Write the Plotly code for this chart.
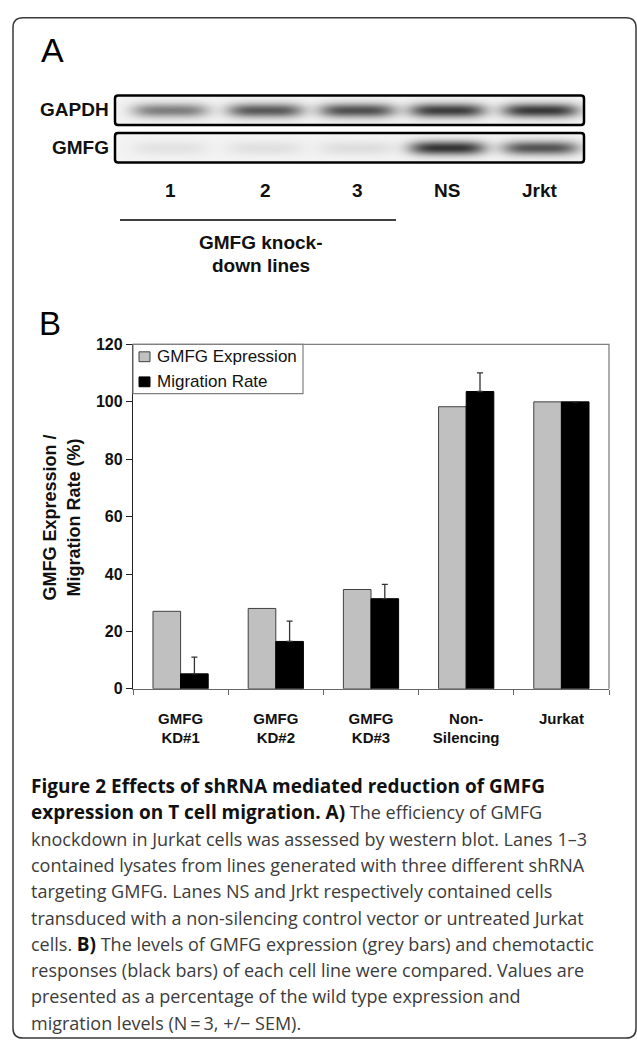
import numpy as np
import plotly.graph_objects as go

W, H = 637, 1049

# ---------------- data ----------------
categories = ["GMFG<br>KD#1", "GMFG<br>KD#2", "GMFG<br>KD#3", "Non-<br>Silencing", "Jurkat"]
gmfg_expression = [27.0, 28.0, 34.6, 98.3, 100.0]
migration_rate = [5.2, 16.5, 31.4, 103.6, 100.0]
migration_sem = [5.8, 7.1, 5.0, 6.5, 0.0]
y_tick_values = [0, 20, 40, 60, 80, 100, 120]
series_names = ["GMFG Expression", "Migration Rate"]

blot_lanes = ["1", "2", "3", "NS", "Jrkt"]
blot_proteins = ["GAPDH", "GMFG"]
gapdh_band = [0.50, 0.66, 0.70, 0.78, 0.80]
gmfg_band = [0.07, 0.08, 0.09, 0.82, 0.68]

caption_lines = [
    "<b>Figure 2 Effects of shRNA mediated reduction of GMFG</b>",
    "<b>expression on T cell migration. A)</b> The efficiency of GMFG",
    "knockdown in Jurkat cells was assessed by western blot. Lanes 1\u20133",
    "contained lysates from lines generated with three different shRNA",
    "targeting GMFG. Lanes NS and Jrkt respectively contained cells",
    "transduced with a non-silencing control vector or untreated Jurkat",
    "cells. <b>B)</b> The levels of GMFG expression (grey bars) and chemotactic",
    "responses (black bars) of each cell line were compared. Values are",
    "presented as a percentage of the wild type expression and",
    "migration levels (N\u2009=\u20093, +/\u2212 SEM).",
]

# ---------------- layout constants (pixels) ----------------
LANE_X = [170, 265, 357, 447, 540]
BLOT_X0, BLOT_X1 = 115, 584
BOX_Y = [(89, 119), (127, 157)]
BAND_Y = [103.5, 142]
PLOT_X0, PLOT_X1 = 133, 609
PLOT_Y0, PLOT_Y1 = 342, 692  # top, bottom
ARIAL = "Liberation Sans, Arial, sans-serif"
CAP_FONT = "Open Sans, Noto Sans, sans-serif"
GREY = "#c0c0c0"
GREY_EDGE = "#404040"


def px(x):
    return x / W


def py(y):
    return 1 - y / H


def rounded_rect(x0, y0, x1, y1, r):
    rx, ry = r / W, r / H
    X0, X1, Y0, Y1 = px(x0), px(x1), py(y0), py(y1)
    return (f"M{X0 + rx},{Y0} L{X1 - rx},{Y0} Q{X1},{Y0} {X1},{Y0 - ry} "
            f"L{X1},{Y1 + ry} Q{X1},{Y1} {X1 - rx},{Y1} "
            f"L{X0 + rx},{Y1} Q{X0},{Y1} {X0},{Y1 + ry} "
            f"L{X0},{Y0 - ry} Q{X0},{Y0} {X0 + rx},{Y0} Z")


fig = go.Figure()

# ---------------- bar chart ----------------
fig.add_trace(go.Bar(
    x=categories, y=gmfg_expression, name=series_names[0],
    marker=dict(color=GREY, line=dict(color=GREY_EDGE, width=1)),
    xaxis="x", yaxis="y", showlegend=False,
))
fig.add_trace(go.Bar(
    x=categories, y=migration_rate, name=series_names[1],
    marker=dict(color="#000000", line=dict(color="#000000", width=1)),
    error_y=dict(type="data", array=migration_sem, arrayminus=[0] * len(migration_sem),
                 symmetric=False, color="#333333", thickness=1.3, width=3),
    xaxis="x", yaxis="y", showlegend=False,
))

# ---------------- western blot (heatmap rendering of band intensities) ----------------
gx = np.arange(BLOT_X0, BLOT_X1 + 1, 2.0)
gy = np.arange(BOX_Y[0][0], BOX_Y[1][1] + 0.5, 1.0)
z = np.zeros((len(gy), len(gx)))
for (y0, y1), cy, bands in zip(BOX_Y, BAND_Y, [gapdh_band, gmfg_band]):
    inside = (gy >= y0) & (gy <= y1)
    rowprof = np.exp(-((gy - cy) / 7.0) ** 2)
    for cx, val in zip(LANE_X, bands):
        colprof = np.exp(-(np.abs(gx - cx) / 38.0) ** 4)
        z += np.outer(rowprof * inside, colprof) * val
    z[inside, :] += 0.05
fig.add_trace(go.Heatmap(
    x=gx, y=gy, z=z, zmin=0, zmax=1, zsmooth="best", showscale=False,
    colorscale=[[0, "#ffffff"], [1, "#141414"]], hoverinfo="skip",
    xaxis="x2", yaxis="y2", showlegend=False,
))

shapes = []
# outer frame
shapes.append(dict(type="path", xref="paper", yref="paper",
                   path=rounded_rect(13, 10, 636, 1047, 10),
                   line=dict(color="#3a3a3a", width=1.5)))
# blot boxes
for (y0, y1) in BOX_Y:
    shapes.append(dict(type="path", xref="paper", yref="paper",
                       path=rounded_rect(BLOT_X0, y0, BLOT_X1, y1, 3),
                       line=dict(color="#000000", width=2.5)))
# knock-down line
shapes.append(dict(type="line", xref="paper", yref="paper",
                   x0=px(120), x1=px(396), y0=py(215.5), y1=py(215.5),
                   line=dict(color="#000000", width=1.5)))
# plot top/right border
shapes.append(dict(type="path", xref="paper", yref="paper",
                   path=f"M{px(PLOT_X0)},{py(PLOT_Y0)} L{px(PLOT_X1)},{py(PLOT_Y0)} L{px(PLOT_X1)},{py(PLOT_Y1)}",
                   line=dict(color="#808080", width=1.3)))
# legend box and swatches
shapes.append(dict(type="rect", xref="paper", yref="paper",
                   x0=px(PLOT_X0), x1=px(303), y0=py(392), y1=py(PLOT_Y0),
                   line=dict(color="#808080", width=1.2), fillcolor="white"))
LEG_ROWS = [354.5, 380]
for cy, fill, edge in zip(LEG_ROWS, [GREY, "#000000"], [GREY_EDGE, "#000000"]):
    shapes.append(dict(type="rect", xref="paper", yref="paper",
                       x0=px(139), x1=px(150), y0=py(cy + 5), y1=py(cy - 5),
                       line=dict(color=edge, width=1), fillcolor=fill))

ann = []


def add_text(text, x, y, size, bold=False, xanchor="center", yanchor="middle",
             family=ARIAL, color="#111111", textangle=0, align="center"):
    ann.append(dict(text=text, x=px(x), y=py(y), xref="paper", yref="paper",
                    xanchor=xanchor, yanchor=yanchor, showarrow=False,
                    textangle=textangle, align=align,
                    font=dict(family=family, size=size, color=color,
                              weight="bold" if bold else "normal")))


add_text("A", 39, 43, 34, xanchor="left", color="#000")
add_text("B", 37, 321, 33, xanchor="left", color="#000")
for name, cy in zip(blot_proteins, BAND_Y):
    add_text(name, 111, cy, 19, bold=True, xanchor="right")
for lane, cx in zip(blot_lanes, LANE_X):
    add_text(lane, cx, 185, 19, bold=True)
add_text("GMFG knock-", 261, 238, 19, bold=True)
add_text("down lines", 261, 262, 19, bold=True)
add_text("GMFG Expression /<br>Migration Rate (%)", 62, 518, 18, bold=True, textangle=-90)
for name, cy in zip(series_names, LEG_ROWS):
    add_text(name, 155, cy, 17, xanchor="left", color="#111")
for i, line in enumerate(caption_lines):
    styled = line.replace("<b>", "<span style='font-size:19px;font-weight:bold;color:#111111'>") \
                 .replace("</b>", "</span>")
    add_text(styled, 29, 791 + i * 26.7, 18, xanchor="left", family=CAP_FONT,
             color="#3c3c3c", align="left")

fig.update_layout(
    width=W, height=H, autosize=False,
    margin=dict(l=0, r=0, t=0, b=0, pad=0),
    paper_bgcolor="white", plot_bgcolor="rgba(0,0,0,0)",
    barmode="group", bargap=0.42, bargroupgap=0,
    showlegend=False,
    xaxis=dict(domain=[px(PLOT_X0), px(PLOT_X1)], anchor="y",
               showline=True, linecolor="#666666", linewidth=1.3,
               ticks="outside", tickson="boundaries", ticklen=5, tickcolor="#666666",
               ticklabelstandoff=16,
               tickfont=dict(family=ARIAL, size=15, color="#111", weight="bold"),
               showgrid=False, zeroline=False, fixedrange=True),
    yaxis=dict(domain=[py(PLOT_Y1), py(PLOT_Y0)], anchor="x", range=[0, 120],
               tickvals=y_tick_values, showline=True, linecolor="#222222", linewidth=1.3,
               ticks="outside", ticklen=6, tickcolor="#222222",
               tickfont=dict(family=ARIAL, size=16, color="#111", weight="bold"),
               showgrid=False, zeroline=False, fixedrange=True),
    xaxis2=dict(domain=[px(BLOT_X0), px(BLOT_X1)], anchor="y2", range=[BLOT_X0, BLOT_X1],
                visible=False, fixedrange=True),
    yaxis2=dict(domain=[py(BOX_Y[1][1]), py(BOX_Y[0][0])], anchor="x2",
                range=[BOX_Y[1][1], BOX_Y[0][0]], visible=False, fixedrange=True),
    shapes=shapes, annotations=ann,
)

fig.write_html("out.html", config={"displayModeBar": False},
               post_script="document.body.style.margin='0';document.body.style.overflow='hidden';")
